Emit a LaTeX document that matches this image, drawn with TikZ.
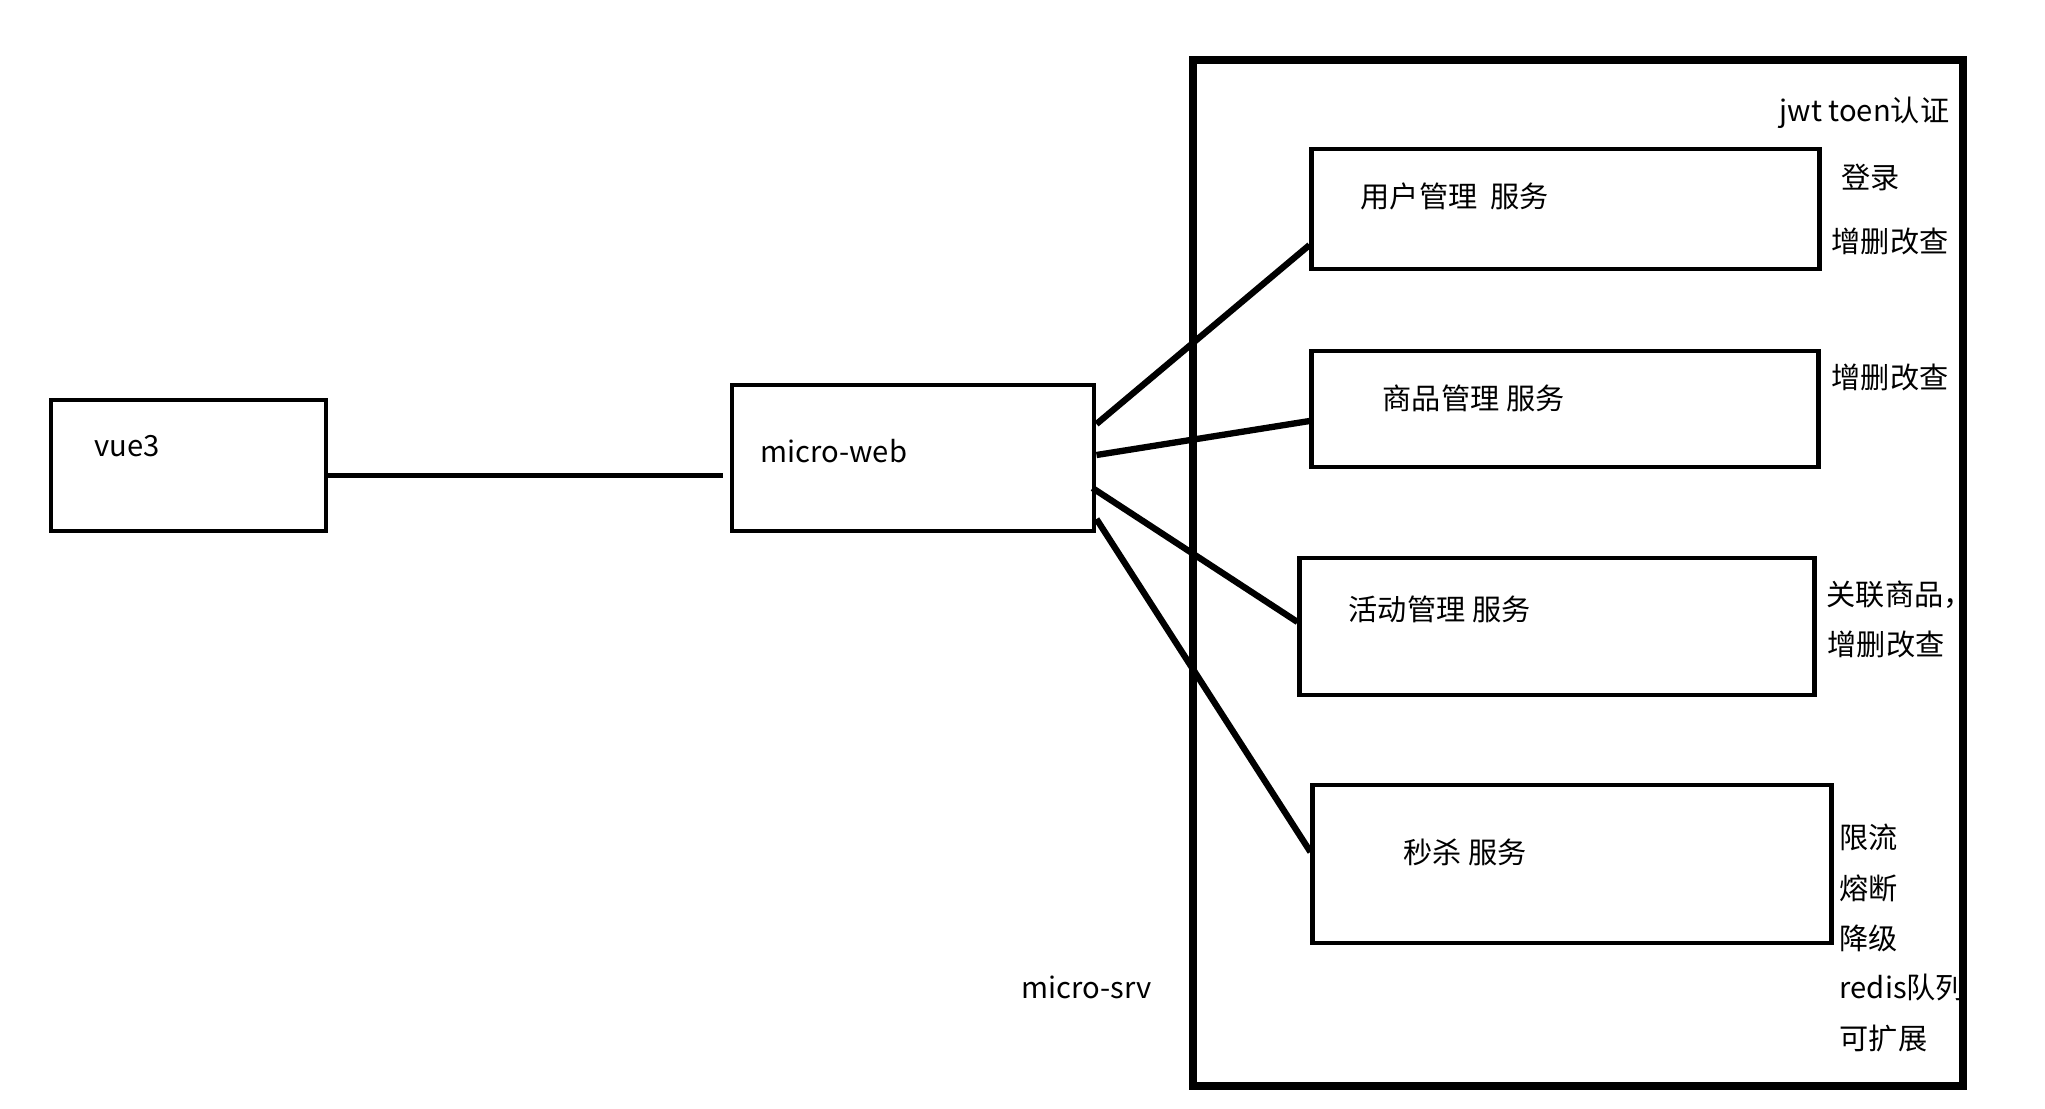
\documentclass[tikz,border=0pt]{standalone}
\usepackage{fontspec}
\setmainfont{Noto Sans CJK SC}
\usepackage{tikz}
\usetikzlibrary{positioning, calc}

\begin{document}
\begin{tikzpicture}[x=0.01cm, y=-0.01cm, font=\fontsize{8.3}{10}\selectfont,
    blk/.style={draw, line width=1.35pt, inner sep=0pt},
    srv/.style={draw, line width=2.2pt, inner sep=0pt},
    txt/.style={inner sep=0pt, anchor=west},
    link/.style={line width=1.8pt},
    link2/.style={line width=1.35pt}]
    \useasboundingbox (0,0) rectangle (2045,1108);
    % boxes
    \node[blk, minimum width=2.75cm, minimum height=1.31cm] (vue) at (188.5,465.5) {};
    \node[blk, minimum width=3.62cm, minimum height=1.46cm] (web) at (913,458) {};
    \node[srv, minimum width=7.70cm, minimum height=10.26cm] (msrv) at (1578,573) {};
    \node[blk, minimum width=5.07cm, minimum height=1.20cm] (user) at (1565.5,209) {};
    \node[blk, minimum width=5.06cm, minimum height=1.16cm] (goods) at (1565,409) {};
    \node[blk, minimum width=5.14cm, minimum height=1.37cm] (act) at (1557,626.5) {};
    \node[blk, minimum width=5.18cm, minimum height=1.58cm] (kill) at (1572,864) {};
    % box texts
    \node[txt] (vuet) at (94,446) {vue3};
    \node[txt] (webt) at (760,451) {micro-web};
    \node[txt] (usert) at (1360,196) {用户管理~~服务};
    \node[txt] (goodst) at (1382,398) {商品管理 服务};
    \node[txt] (actt) at (1348,609) {活动管理 服务};
    \node[txt] (killt) at (1403,852) {秒杀 服务};
    \node[txt] (msrvt) at (1021,987) {micro-srv};
    % notes
    \node[txt] (jwt) at (1779,113) {jwt toen认证};
    \node[txt] (login) at (1841,177) {登录};
    \node[txt] (crud1) at (1831,241) {增删改查};
    \node[txt] (crud2) at (1831,377) {增删改查};
    \node[txt] (rel) at (1826,595) {关联商品，};
    \node[txt] (crud3) at (1827,644) {增删改查};
    \node[txt] (limit) at (1839,837) {限流};
    \node[txt] (fuse) at (1839,888) {熔断};
    \node[txt] (down) at (1839,938) {降级};
    \node[txt] (queue) at (1839,987) {redis队列};
    \node[txt] (scale) at (1839,1038) {可扩展};
    % links
    \draw[link2] ([yshift=-0.1cm]vue.east) -- ([yshift=-0.1cm, xshift=-0.07cm]vue.east -| web.west);
    \draw[link] ([yshift=0.34cm]web.east) -- ([yshift=-0.36cm]user.west);
    \draw[link] ([yshift=0.03cm]web.east) -- ([yshift=-0.12cm]goods.west);
    \draw[link] ([yshift=-0.30cm, xshift=-0.04cm]web.east) -- ([yshift=0.045cm]act.west);
    \draw[link] ([yshift=-0.61cm]web.east) -- ([yshift=0.12cm]kill.west);
\end{tikzpicture}
\end{document}
